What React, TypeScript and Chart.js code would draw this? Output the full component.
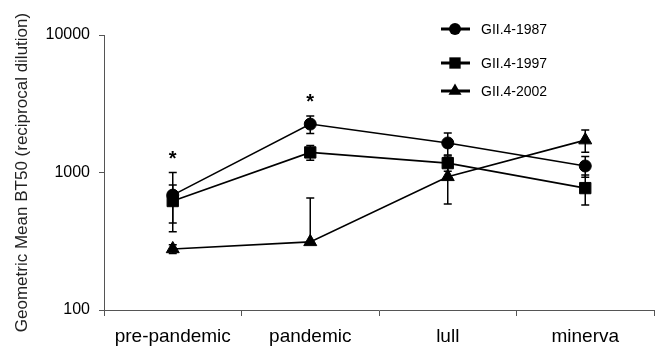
import React, { useEffect, useRef } from "react";
import { Chart, registerables } from "chart.js";

Chart.register(...registerables);

const categories = ["pre-pandemic", "pandemic", "lull", "minerva"];
const seriesNames = ["GII.4-1987", "GII.4-1997", "GII.4-2002"];
const gii1987 = [685, 2250, 1640, 1115];
const gii1987Err = [315, 330, 300, 190];
const gii1997 = [620, 1400, 1170, 770];
const gii1997Err = [190, 170, 150, 190];
const gii2002 = [278, 313, 930, 1720];
const gii2002Err = [20, 340, 340, 315];
const yTicks = [100, 1000, 10000];
const significant = ["pre-pandemic", "pandemic"];

const FONT = "'Liberation Sans', Arial, Helvetica, sans-serif";

function drawMarker(ctx: CanvasRenderingContext2D, style: string, r: number, x: number, y: number) {
  ctx.beginPath();
  if (style === "circle") {
    ctx.arc(x, y, r, 0, Math.PI * 2);
  } else if (style === "rect") {
    const s = Math.SQRT1_2 * r;
    ctx.rect(x - s, y - s, 2 * s, 2 * s);
  } else {
    ctx.moveTo(x, y - r);
    ctx.lineTo(x + r * 0.866, y + r * 0.5);
    ctx.lineTo(x - r * 0.866, y + r * 0.5);
    ctx.closePath();
  }
  ctx.fill();
}

const errorBarPlugin = {
  id: "errorBars",
  afterDatasetsDraw(chart: any) {
    const ctx = chart.ctx;
    const y = chart.scales.y;
    ctx.save();
    ctx.strokeStyle = "#000";
    ctx.lineWidth = 1.5;
    chart.data.datasets.forEach((ds: any, di: number) => {
      const meta = chart.getDatasetMeta(di);
      ds.data.forEach((v: number, i: number) => {
        const e = ds.errors[i];
        const px = meta.data[i].x;
        const py = y.getPixelForValue(v);
        const top = y.getPixelForValue(v + e);
        ctx.beginPath();
        ctx.moveTo(px, py);
        ctx.lineTo(px, top);
        ctx.moveTo(px - 4, top);
        ctx.lineTo(px + 4, top);
        if (v - e > 0) {
          const bot = y.getPixelForValue(v - e);
          ctx.moveTo(px, py);
          ctx.lineTo(px, bot);
          ctx.moveTo(px - 4, bot);
          ctx.lineTo(px + 4, bot);
        }
        ctx.stroke();
      });
    });
    ctx.fillStyle = "#000";
    ctx.font = `bold 20px ${FONT}`;
    ctx.textAlign = "center";
    ctx.textBaseline = "middle";
    significant.forEach((cat) => {
      const i = categories.indexOf(cat);
      let maxTop = 0;
      chart.data.datasets.forEach((ds: any) => {
        maxTop = Math.max(maxTop, ds.data[i] + ds.errors[i]);
      });
      const px = chart.scales.x.getPixelForValue(i);
      const py = y.getPixelForValue(maxTop) - 13;
      ctx.fillText("*", px, py);
    });
    ctx.restore();
  },
};

const legendPlugin = {
  id: "customLegend",
  afterDraw(chart: any) {
    const ctx = chart.ctx;
    const rows = [29, 63, 91];
    ctx.save();
    chart.data.datasets.forEach((ds: any, i: number) => {
      const yy = rows[i];
      ctx.strokeStyle = "#000";
      ctx.lineWidth = 3;
      ctx.beginPath();
      ctx.moveTo(441, yy);
      ctx.lineTo(470, yy);
      ctx.stroke();
      ctx.fillStyle = "#000";
      drawMarker(ctx, ds.pointStyle, ds.pointRadius, 455, yy);
      ctx.font = `14px ${FONT}`;
      ctx.textAlign = "left";
      ctx.textBaseline = "middle";
      ctx.fillText(ds.label, 481, yy + 1);
    });
    ctx.restore();
  },
};

export default function App() {
  const ref = useRef<HTMLCanvasElement>(null);
  useEffect(() => {
    if (!ref.current) return;
    const mk = (label: string, data: number[], errors: number[], style: string, r: number) => ({
      label,
      data,
      errors,
      borderColor: "#000",
      backgroundColor: "#000",
      pointBackgroundColor: "#000",
      pointBorderColor: "#000",
      borderWidth: 1.6,
      pointStyle: style,
      pointRadius: r,
      pointBorderWidth: 1,
      tension: 0,
    });
    const chart = new Chart(ref.current, {
      type: "line",
      data: {
        labels: categories,
        datasets: [
          mk(seriesNames[0], gii1987, gii1987Err, "circle", 6),
          mk(seriesNames[1], gii1997, gii1997Err, "rect", 8),
          mk(seriesNames[2], gii2002, gii2002Err, "triangle", 7.5),
        ] as any,
      },
      options: {
        responsive: false,
        animation: false,
        layout: { padding: { top: 35, right: 7, left: 0, bottom: 0 } },
        plugins: { legend: { display: false }, tooltip: { enabled: false } },
        scales: {
          x: {
            type: "category",
            offset: true,
            grid: {
              display: true,
              offset: true,
              drawOnChartArea: false,
              drawTicks: true,
              tickLength: 6,
              color: "#555",
              lineWidth: 1,
            },
            border: { color: "#555", width: 1 },
            ticks: { color: "#000", font: { family: FONT, size: 19 }, padding: 9 },
            afterFit: (s: any) => {
              s.height = 46;
            },
          },
          y: {
            type: "logarithmic",
            min: 100,
            max: 10000,
            afterBuildTicks: (s: any) => {
              s.ticks = yTicks.map((v) => ({ value: v, major: true }));
            },
            afterFit: (s: any) => {
              s.width = 104;
            },
            grid: {
              display: true,
              drawOnChartArea: false,
              drawTicks: true,
              tickLength: 5,
              color: "#555",
            },
            border: { color: "#555", width: 1 },
            ticks: {
              color: "#000",
              font: { family: FONT, size: 16 },
              padding: 9,
              callback: (v: any) => String(v),
            },
            title: {
              display: true,
              text: "Geometric Mean BT50 (reciprocal dilution)",
              color: "#222",
              font: { family: FONT, size: 17, lineHeight: 1.2 },
              padding: { top: 12, bottom: 0 },
            },
          },
        },
      },
      plugins: [errorBarPlugin, legendPlugin],
    });
    return () => chart.destroy();
  }, []);
  return (
    <canvas
      ref={ref}
      width={663}
      height={356}
      style={{ position: "absolute", left: 0, top: 0, width: 663, height: 356 }}
    />
  );
}
